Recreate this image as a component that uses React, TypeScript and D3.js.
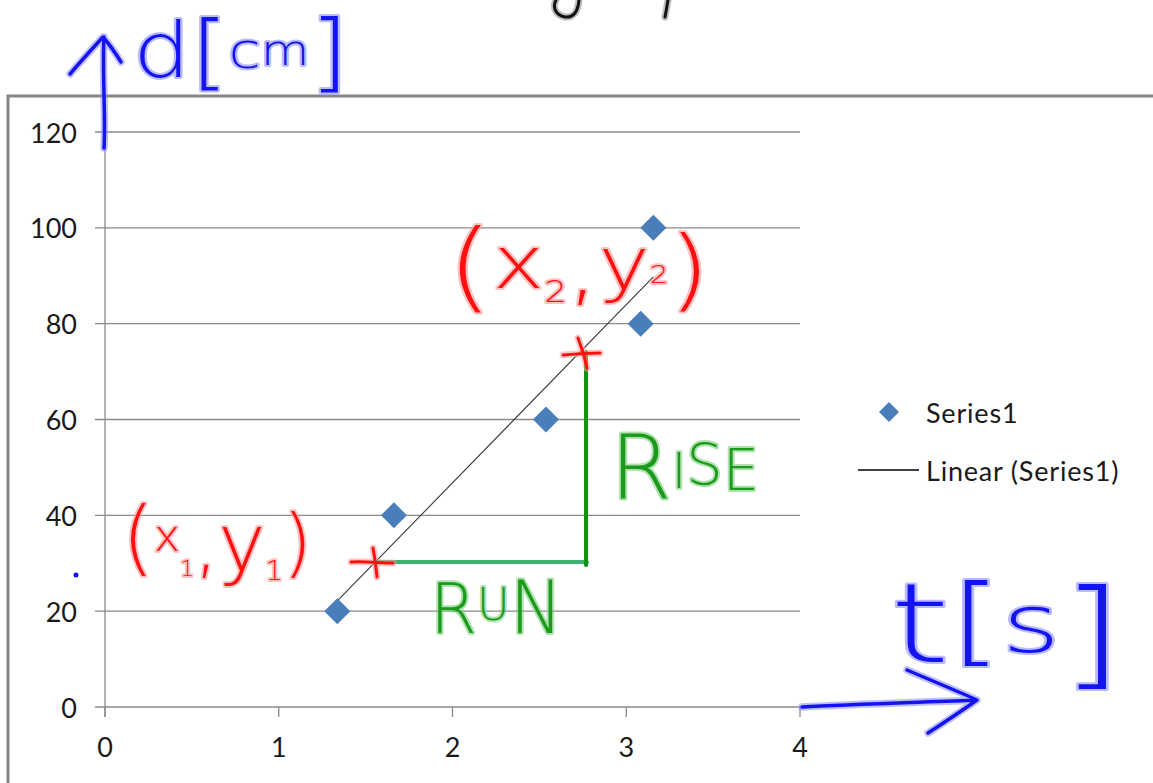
import React from "react";
import * as d3 from "d3";

// ---- chart data ----
const timeValues = [1.337, 1.663, 2.538, 3.083, 3.156];
const distanceValues = [20, 40, 60, 80, 100];
const xTicks = [0, 1, 2, 3, 4];
const yTicks = [0, 20, 40, 60, 80, 100, 120];
const legendLabels = ["Series1", "Linear (Series1)"];

const W = 1153;
const H = 783;
const FONT = "Lato, 'Noto Sans', sans-serif";
const HAND = "'DejaVu Sans', sans-serif";

const BLUE = "#1414f0";
const BLUE_HALO = "#8c8cff";
const RED = "#ff1010";
const RED_HALO = "#ff9a9a";
const GREEN = "#1c9a1c";
const GREEN_HALO = "#7ccf7c";

// glyph metrics (DejaVu Sans, em units): [top above baseline, below baseline]
const METRICS: Record<string, [number, number]> = {
  br: [0.76, 0.132],
  cap: [0.729, 0],
  xh: [0.547, 0],
  asc: [0.76, 0],
  t: [0.7, 0],
  desc: [0.547, 0.208],
  dig: [0.729, 0],
  comma: [0.12, 0.12],
};

type Glyph = { ch: string; k: string; top: number; bot: number };
type Word = { x: number; w: number; glyphs: Glyph[] };

const dcmWord: Word = {
  x: 133,
  w: 216,
  glyphs: [
    { ch: "d", k: "asc", top: 19, bot: 77 },
    { ch: "[", k: "br", top: 17, bot: 90 },
    { ch: "c", k: "xh", top: 41, bot: 68 },
    { ch: "m", k: "xh", top: 42, bot: 65 },
    { ch: "]", k: "br", top: 16, bot: 92 },
  ],
};
const tsWord: Word = {
  x: 890,
  w: 234,
  glyphs: [
    { ch: "t", k: "t", top: 585, bot: 662 },
    { ch: "[", k: "br", top: 580, bot: 666 },
    { ch: "s", k: "xh", top: 608, bot: 652 },
    { ch: "]", k: "br", top: 585, bot: 690 },
  ],
};
const p2Word: Word = {
  x: 447,
  w: 263,
  glyphs: [
    { ch: "(", k: "br", top: 225, bot: 313 },
    { ch: "x", k: "xh", top: 248, bot: 288 },
    { ch: "2", k: "dig", top: 280, bot: 302 },
    { ch: ",", k: "comma", top: 285, bot: 305 },
    { ch: "y", k: "desc", top: 249, bot: 304 },
    { ch: "2", k: "dig", top: 265, bot: 283 },
    { ch: ")", k: "br", top: 232, bot: 312 },
  ],
};
const p1Word: Word = {
  x: 122,
  w: 190,
  glyphs: [
    { ch: "(", k: "br", top: 503, bot: 576 },
    { ch: "x", k: "xh", top: 527, bot: 551 },
    { ch: "1", k: "dig", top: 560, bot: 576 },
    { ch: ",", k: "comma", top: 560, bot: 578 },
    { ch: "y", k: "desc", top: 528, bot: 588 },
    { ch: "1", k: "dig", top: 560, bot: 580 },
    { ch: ")", k: "br", top: 512, bot: 578 },
  ],
};
const riseWord: Word = {
  x: 610,
  w: 149,
  glyphs: [
    { ch: "R", k: "cap", top: 433, bot: 498 },
    { ch: "I", k: "cap", top: 452, bot: 488 },
    { ch: "S", k: "cap", top: 443, bot: 485 },
    { ch: "E", k: "cap", top: 448, bot: 490 },
  ],
};
const runWord: Word = {
  x: 430,
  w: 133,
  glyphs: [
    { ch: "R", k: "cap", top: 583, bot: 633 },
    { ch: "U", k: "cap", top: 587, bot: 620 },
    { ch: "N", k: "cap", top: 580, bot: 633 },
  ],
};

function Hand({ word, color, halo }: { word: Word; color: string; halo: string }) {
  return (
    <text
      x={word.x}
      y={word.glyphs[0].bot}
      textLength={word.w}
      lengthAdjust="spacingAndGlyphs"
      fontFamily={HAND}
      fontWeight={200}
      fill={color}
      stroke={halo}
      strokeWidth={4}
      strokeOpacity={0.6}
      strokeLinejoin="round"
      style={{ paintOrder: "stroke" }}
    >
      {word.glyphs.map((g, i) => {
        const [up, down] = METRICS[g.k];
        const fs = (g.bot - g.top) / (up + down);
        const base = g.bot - down * fs;
        return (
          <tspan key={i} y={base} fontSize={fs}>
            {g.ch}
          </tspan>
        );
      })}
    </text>
  );
}

function Stroke({ d, color, halo, w = 3.5 }: { d: string; color: string; halo: string; w?: number }) {
  return (
    <g fill="none" strokeLinecap="round" strokeLinejoin="round">
      <path d={d} stroke={halo} strokeWidth={w + 4} strokeOpacity={0.55} />
      <path d={d} stroke={color} strokeWidth={w} />
    </g>
  );
}

export default function App() {
  const x = d3.scaleLinear().domain([0, 4]).range([105, 800]);
  const y = d3.scaleLinear().domain([0, 120]).range([707, 132]);

  const points = timeValues.map((t, i) => ({ t, d: distanceValues[i] }));
  const mx = d3.mean(timeValues) as number;
  const my = d3.mean(distanceValues) as number;
  const sxy = d3.sum(points, (p) => (p.t - mx) * (p.d - my));
  const sxx = d3.sum(points, (p) => (p.t - mx) ** 2);
  const slope = sxy / sxx;
  const intercept = my - slope * mx;
  const [tMin, tMax] = d3.extent(timeValues) as [number, number];
  const trend = d3
    .line<number>()
    .x((t) => x(t))
    .y((t) => y(intercept + slope * t))([tMin, tMax]);

  const diamond = d3.symbol().type(d3.symbolSquare).size(340)();
  const legendDiamond = d3.symbol().type(d3.symbolSquare).size(200)();
  const gridColor = "#8a8a8a";

  return (
    <svg
      width={W}
      height={H}
      style={{ position: "absolute", left: 0, top: 0, background: "#fff" }}
    >
      <rect x={0} y={0} width={W} height={H} fill="#fff" />
      {/* chart frame */}
      <rect x={8} y={96} width={W + 20} height={H} fill="none" stroke="#868686" strokeWidth={3} />

      {/* gridlines */}
      {yTicks.map((v) => (
        <line key={v} x1={x(0) - 10} x2={x(4)} y1={y(v)} y2={y(v)} stroke={gridColor} strokeWidth={1.3} />
      ))}
      {/* y axis */}
      <line x1={x(0)} x2={x(0)} y1={y(120)} y2={y(0) + 10} stroke={gridColor} strokeWidth={1.3} />
      {xTicks.map((v) => (
        <line key={v} x1={x(v)} x2={x(v)} y1={y(0)} y2={y(0) + 10} stroke={gridColor} strokeWidth={1.3} />
      ))}
      {/* tick labels */}
      <g fontFamily={FONT} fontSize={27} fill="#1a1a1a">
        {yTicks.map((v) => (
          <text key={v} x={x(0) - 28} y={y(v)} textAnchor="end" dominantBaseline="central">
            {v}
          </text>
        ))}
        {xTicks.map((v) => (
          <text key={v} x={x(v)} y={y(0) + 50} textAnchor="middle">
            {v}
          </text>
        ))}
      </g>

      {/* trendline */}
      <path d={trend || ""} fill="none" stroke="#3a3a3a" strokeWidth={1.1} />

      {/* points */}
      {points.map((p, i) => (
        <path key={i} d={diamond || ""} transform={`translate(${x(p.t)},${y(p.d)}) rotate(45)`} fill="#4a7ebb" />
      ))}

      {/* legend */}
      <g fontFamily={FONT} fontSize={27} fill="#1a1a1a" letterSpacing={0.8}>
        <path d={legendDiamond || ""} transform="translate(889,412) rotate(45)" fill="#4a7ebb" />
        <text x={926} y={412} dominantBaseline="central">
          {legendLabels[0]}
        </text>
        <line x1={858} x2={919} y1={470} y2={470} stroke="#000" strokeWidth={1.3} />
        <text x={926} y={470} dominantBaseline="central">
          {legendLabels[1]}
        </text>
      </g>

      {/* green rise / run lines */}
      <line x1={377} x2={587} y1={562} y2={562} stroke="#3cb371" strokeWidth={4} strokeLinecap="round" />
      <line x1={586} x2={586} y1={352} y2={565} stroke="#0d960d" strokeWidth={4} strokeLinecap="round" />

      {/* red crosses */}
      <Stroke d="M351,562 C365,561 380,563 393,563 M373,548 C375,558 376,568 377,577" color={RED} halo={RED_HALO} w={3} />
      <Stroke d="M563,355 C575,354 588,353 600,353 M578,338 C582,348 585,358 587,368" color={RED} halo={RED_HALO} w={3} />

      {/* handwritten labels */}
      <Hand word={p2Word} color={RED} halo={RED_HALO} />
      <Hand word={p1Word} color={RED} halo={RED_HALO} />
      <Hand word={riseWord} color={GREEN} halo={GREEN_HALO} />
      <Hand word={runWord} color={GREEN} halo={GREEN_HALO} />
      <Hand word={dcmWord} color={BLUE} halo={BLUE_HALO} />
      <Hand word={tsWord} color={BLUE} halo={BLUE_HALO} />

      {/* blue axis arrows */}
      <Stroke d="M104,148 C106,120 102,70 104,37 M70,74 C82,60 93,48 103,37 C110,45 116,54 121,62" color={BLUE} halo={BLUE_HALO} />
      <Stroke d="M802,707 C850,704 930,702 977,700 M907,670 C930,680 955,690 977,700 C960,712 945,722 928,733" color={BLUE} halo={BLUE_HALO} />
      <circle cx={76} cy={575} r={2.5} fill={BLUE} />

      {/* cut-off strokes at the top */}
      <Stroke d="M556,0 C552,8 556,15 565,17 C574,18 578,11 579,0" color="#111" halo="#888" w={3} />
      <Stroke d="M668,0 C667,6 666,12 665,17" color="#111" halo="#888" w={3} />
    </svg>
  );
}
